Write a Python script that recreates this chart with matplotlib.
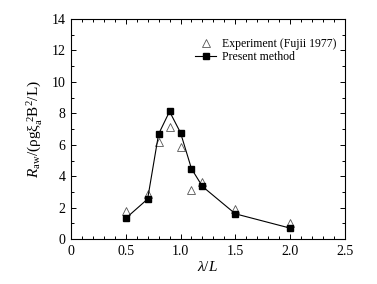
import numpy as np
import matplotlib.pyplot as plt
from matplotlib.ticker import MultipleLocator

plt.rcParams['font.family'] = ['Liberation Serif', 'DejaVu Serif']
plt.rcParams['mathtext.fontset'] = 'custom'
plt.rcParams['mathtext.rm'] = 'Liberation Serif'
plt.rcParams['mathtext.it'] = 'Liberation Serif:italic'

# experiment (Fujii 1977)
x_exp = [0.5, 0.7, 0.8, 0.9, 1.0, 1.1, 1.2, 1.5, 2.0]
y_exp = [1.80, 2.90, 6.17, 7.13, 5.84, 3.10, 3.65, 1.89, 1.02]

# present method
x_pm = [0.5, 0.7, 0.8, 0.9, 1.0, 1.1, 1.2, 1.5, 2.0]
y_pm = [1.32, 2.55, 6.68, 8.12, 6.77, 4.48, 3.35, 1.61, 0.70]

xticks = [0, 0.5, 1.0, 1.5, 2.0, 2.5]
xticklabels = ['0', '0.5', '1.0', '1.5', '2.0', '2.5']

fig = plt.figure(figsize=(3.77, 2.84), dpi=100)
ax = fig.add_axes([0.188, 0.158, 0.727, 0.775])

ax.plot(x_exp, y_exp, ls='none', marker='^', mfc='white', mec='#555555',
        ms=5.5, mew=0.6, label='Experiment (Fujii 1977)')
ax.plot(x_pm, y_pm, color='black', lw=0.8, marker='s', ms=4.5,
        mfc='black', mec='black', label='Present method')

ax.set_xlim(0, 2.5)
ax.set_ylim(0, 14)
ax.set_xticks(xticks)
ax.set_xticklabels(xticklabels)
ax.xaxis.set_minor_locator(MultipleLocator(0.1))
ax.yaxis.set_major_locator(MultipleLocator(2))
ax.yaxis.set_minor_locator(MultipleLocator(1))
ax.tick_params(which='both', direction='in', top=True, right=True, labelsize=10, width=0.7)
ax.tick_params(which='major', length=3.5, pad=4)
ax.tick_params(which='minor', length=2)
for s in ax.spines.values():
    s.set_linewidth(0.8)

ax.set_xlabel(r'$\lambda/L$', fontsize=11, labelpad=2)
ax.set_ylabel(r'$R_{\rm aw}$/(ρg$\mathrm{ξ}_{\rm a}^{\ 2}$B$^2$/L)', fontsize=11, labelpad=5)

ax.legend(loc='upper right', bbox_to_anchor=(1.0, 0.95), frameon=False, fontsize=8.5,
          handlelength=1.8, handletextpad=0.5, labelspacing=0.1, borderaxespad=0.3)

fig.savefig('out.png', dpi=100)
